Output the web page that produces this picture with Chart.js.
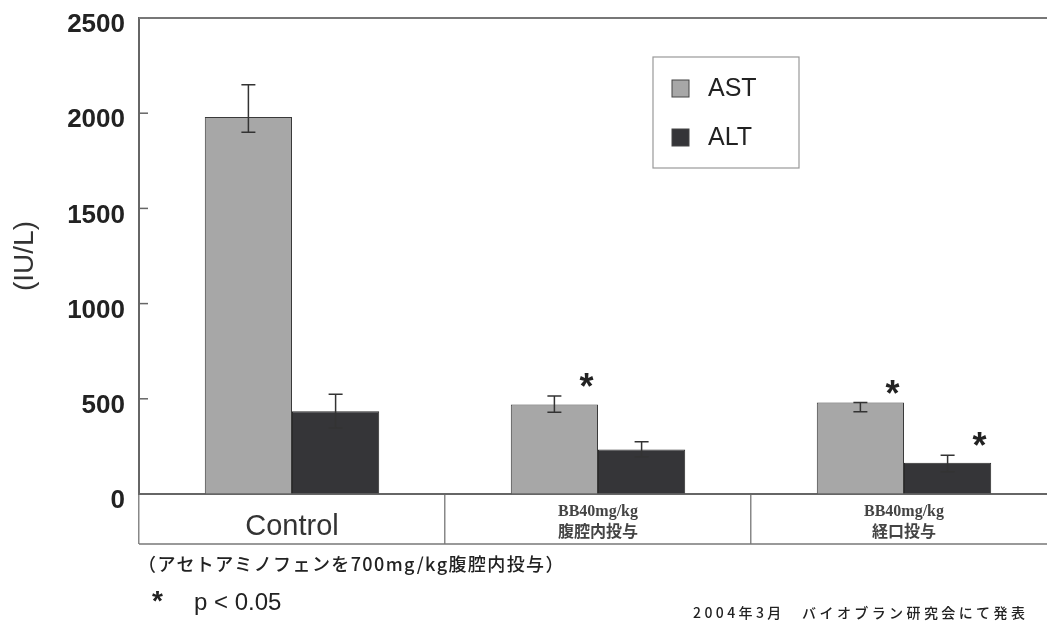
<!DOCTYPE html>
<html>
<head>
<meta charset="utf-8">
<script src="https://cdn.jsdelivr.net/npm/chart.js@4"></script>
<style>
  body { margin: 0; background: #fff; overflow: hidden; width: 1047px; height: 631px; }
  #wrap { position: absolute; left: 0; top: 0; width: 1060px; height: 631px; }
  .note { position: absolute; color: #222; white-space: nowrap; }
  #dose { left: 138px; top: 550px; font: 500 18px "Noto Sans CJK JP", sans-serif; letter-spacing: 1.4px; }
  #sig { left: 152px; top: 585px; font: 24px "Liberation Sans", Arial, sans-serif; }
  #sig b { display: inline-block; width: 42px; font-size: 28px; }
  #src { left: 693px; top: 602px; font: 500 14px "Noto Sans CJK JP", sans-serif; letter-spacing: 3.4px; }
</style>
</head>
<body>
<div id="wrap"><canvas id="liverChart"></canvas></div>
<div class="note" id="dose">（アセトアミノフェンを700mg/kg腹腔内投与）</div>
<div class="note" id="sig"><b>*</b>p &lt; 0.05</div>
<div class="note" id="src">2004年3月　バイオブラン研究会にて発表</div>

<script>
var groups = ['Control', ['BB40mg/kg', '腹腔内投与'], ['BB40mg/kg', '経口投与']];

var astValues = [1980, 470, 480];
var astHigh = [2150, 515, 480];
var astLow = [1900, 430, 432];
var astSig = [false, true, true];

var altValues = [435, 234, 164];
var altHigh = [524, 274, 204];
var altLow = [347, 195, 117];
var altSig = [false, false, true];

var yTicks = [0, 500, 1000, 1500, 2000, 2500];

var errors = [
    { high: astHigh, low: astLow, sig: astSig },
    { high: altHigh, low: altLow, sig: altSig }
];

// error bars, significance stars, frame lines and the boxed legend
var extras = {
    id: 'extras',
    afterDatasetsDraw: function (chart) {
        var ctx = chart.ctx;
        var y = chart.scales.y;
        ctx.save();
        ctx.strokeStyle = '#333';
        ctx.lineWidth = 1.5;
        errors.forEach(function (err, i) {
            chart.getDatasetMeta(i).data.forEach(function (bar, j) {
                var top = y.getPixelForValue(err.high[j]);
                var bottom = y.getPixelForValue(err.low[j]);
                ctx.beginPath();
                ctx.moveTo(bar.x, top);
                ctx.lineTo(bar.x, bottom);
                ctx.moveTo(bar.x - 7, top);
                ctx.lineTo(bar.x + 7, top);
                ctx.moveTo(bar.x - 7, bottom);
                ctx.lineTo(bar.x + 7, bottom);
                ctx.stroke();
                if (err.sig[j]) {
                    ctx.fillStyle = '#222';
                    ctx.font = 'bold 36px "Liberation Sans", Arial';
                    ctx.textAlign = 'center';
                    ctx.textBaseline = 'alphabetic';
                    ctx.fillText('*', bar.x + 32, Math.min(top, bar.y) + 3);
                }
            });
        });
        ctx.restore();
    },
    afterDraw: function (chart) {
        var ctx = chart.ctx;
        var area = chart.chartArea;
        var x = chart.scales.x;
        var y = chart.scales.y;
        ctx.save();
        // top frame line and bottom line of the label table
        ctx.strokeStyle = '#777';
        ctx.lineWidth = 2;
        ctx.beginPath();
        ctx.moveTo(area.left, area.top);
        ctx.lineTo(area.right, area.top);
        ctx.stroke();
        ctx.lineWidth = 1.5;
        ctx.beginPath();
        ctx.moveTo(x.left, x.bottom);
        ctx.lineTo(x.right, x.bottom);
        ctx.stroke();
        // inner tick marks on the value axis
        ctx.strokeStyle = '#666';
        ctx.lineWidth = 1.5;
        yTicks.forEach(function (v) {
            if (v === 0 || v === 2500) return;
            var py = y.getPixelForValue(v);
            ctx.beginPath();
            ctx.moveTo(area.left, py);
            ctx.lineTo(area.left + 9, py);
            ctx.stroke();
        });
        // legend box
        ctx.fillStyle = '#fff';
        ctx.fillRect(653, 57, 146, 111);
        ctx.strokeStyle = '#999';
        ctx.lineWidth = 1.2;
        ctx.strokeRect(653, 57, 146, 111);
        chart.data.datasets.forEach(function (ds, i) {
            var cy = 88 + i * 49;
            ctx.fillStyle = ds.backgroundColor;
            ctx.fillRect(672, cy - 8, 17, 17);
            ctx.strokeStyle = '#444';
            ctx.lineWidth = 1;
            ctx.strokeRect(672, cy - 8, 17, 17);
            ctx.fillStyle = '#222';
            ctx.font = '25px "Liberation Sans", Arial';
            ctx.textAlign = 'left';
            ctx.textBaseline = 'middle';
            ctx.fillText(ds.label, 708, cy + 1);
        });
        ctx.restore();
    }
};

new Chart(document.getElementById('liverChart'), {
    type: 'bar',
    data: {
        labels: groups,
        datasets: [{
            label: 'AST',
            data: astValues,
            backgroundColor: '#a7a7a7',
            borderColor: '#3a3a3a',
            borderWidth: 1
        }, {
            label: 'ALT',
            data: altValues,
            backgroundColor: '#353538',
            borderColor: '#2a2a2a',
            borderWidth: 1
        }]
    },
    options: {
        responsive: true,
        maintainAspectRatio: false,
        animation: false,
        layout: { padding: { top: 18, right: 3, bottom: 87, left: 0 } },
        categoryPercentage: 0.57,
        barPercentage: 1.0,
        plugins: {
            legend: { display: false },
            tooltip: { enabled: false }
        },
        scales: {
            x: {
                afterFit: function (scale) { scale.height = 50; },
                border: { display: true, color: '#666', width: 2 },
                grid: { offset: true, drawOnChartArea: false, tickLength: 50, color: '#888', lineWidth: 1.5 },
                ticks: {
                    padding: -32,
                    crossAlign: 'center',
                    maxRotation: 0,
                    autoSkip: false,
                    color: function (c) { return c.index === 0 ? '#333' : '#444'; },
                    font: function (c) {
                        if (c.index === 0) {
                            return { family: '"Liberation Sans", Arial', size: 29, lineHeight: 0.42 };
                        }
                        return { family: '"Liberation Serif", "Noto Sans CJK JP"', size: 16, weight: 'bold', lineHeight: 1.3 };
                    }
                }
            },
            y: {
                min: 0,
                max: 2500,
                afterFit: function (scale) {
                    scale.width = 139;
                    scale.paddingTop = 0;
                    scale.paddingBottom = 0;
                },
                afterBuildTicks: function (scale) {
                    scale.ticks = yTicks.map(function (v) { return { value: v }; });
                },
                border: { display: true, color: '#666', width: 2 },
                grid: { drawOnChartArea: false, drawTicks: false },
                ticks: {
                    padding: 14,
                    labelOffset: 7,
                    color: '#222',
                    callback: function (v) { return String(v); },
                    font: { family: '"Liberation Sans", Arial', size: 26, weight: 'bold' }
                },
                title: {
                    display: true,
                    text: '(IU/L)',
                    color: '#333',
                    padding: { top: 8 },
                    font: { family: '"Liberation Sans", Arial', size: 28 }
                }
            }
        }
    },
    plugins: [extras]
});
</script>
</body>
</html>
